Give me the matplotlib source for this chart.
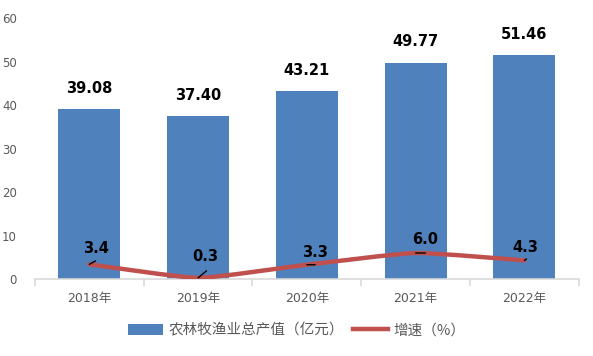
import numpy as np
import matplotlib.pyplot as plt
from matplotlib.path import Path
from matplotlib.patches import PathPatch, Patch
from matplotlib.lines import Line2D

plt.rcParams['font.family'] = ['DejaVu Sans', 'Noto Sans CJK SC']

years = ['2018年', '2019年', '2020年', '2021年', '2022年']
output = [39.08, 37.40, 43.21, 49.77, 51.46]
growth = [3.4, 0.3, 3.3, 6.0, 4.3]
bar_name = '农林牧渔业总产值（亿元）'
line_name = '增速（%）'

bar_color = '#4F81BD'
line_color = '#C0504D'
tick_color = '#595959'

fig = plt.figure(figsize=(5.93, 3.56), dpi=100)
ax = fig.add_axes([0.059, 0.216, 0.917, 0.733])

x = np.arange(len(years))
ax.bar(x, output, width=0.57, color=bar_color, zorder=2)

# bar value labels
for xi, v in zip(x, output):
    ax.annotate(f'{v:.2f}', (xi, v), xytext=(0, 15), textcoords='offset points',
                ha='center', va='center', fontsize=10.5, fontweight='bold',
                color='black')

# smoothed line (light bezier smoothing through the data points)
pts = np.column_stack([x, growth]).astype(float)
verts = [tuple(pts[0])]
codes = [Path.MOVETO]
for i in range(len(pts) - 1):
    p0 = pts[i - 1] if i > 0 else pts[i]
    p1 = pts[i]
    p2 = pts[i + 1]
    p3 = pts[i + 2] if i + 2 < len(pts) else pts[i + 1]
    c1 = p1 + (p2 - p0) / 12
    c2 = p2 - (p3 - p1) / 12
    verts += [tuple(c1), tuple(c2), tuple(p2)]
    codes += [Path.CURVE4] * 3
ax.add_patch(PathPatch(Path(verts, codes), facecolor='none', edgecolor=line_color,
                       lw=3.2, capstyle='round', joinstyle='round', zorder=3))

# line value labels + short leader lines
label_off = [(5, 11.5), (5, 15), (6, 9), (7, 9.5), (1, 9.5)]
leader_off = [(4.5, 2.5), (6, 5), (6, 0), (7, 0), (1.5, 1)]
for xi, v, off, lo in zip(x, growth, label_off, leader_off):
    ax.annotate(f'{v:.1f}', (xi, v), xytext=off, textcoords='offset points',
                ha='center', va='center', fontsize=10.5, fontweight='bold',
                color='black', zorder=4)
    ax.annotate('', (xi, v), xytext=lo, textcoords='offset points', zorder=4,
                arrowprops=dict(arrowstyle='-', color='black', lw=1,
                                shrinkA=0, shrinkB=0))

ax.set_xlim(-0.5, len(years) - 0.5)
ax.set_ylim(0, 60)
ax.set_yticks(range(0, 61, 10))
ax.set_xticks(x)
ax.set_xticklabels(years)
ax.set_xticks(np.arange(-0.5, len(years)), minor=True)

for s in ['top', 'right', 'left']:
    ax.spines[s].set_visible(False)
ax.spines['bottom'].set_color('#D9D9D9')
ax.spines['bottom'].set_linewidth(1.2)

ax.tick_params(axis='y', length=0, pad=13, labelsize=8.5, labelcolor=tick_color)
ax.tick_params(axis='x', which='major', length=0, pad=9, labelsize=9, labelcolor=tick_color)
ax.tick_params(axis='x', which='minor', length=5, color='#D9D9D9', width=1.2)

handles = [Patch(facecolor=bar_color, edgecolor='none'),
           Line2D([0], [0], color=line_color, lw=3.2)]
fig.legend(handles, [bar_name, line_name], loc='center', bbox_to_anchor=(0.5, 0.072),
           ncol=2, frameon=False, handlelength=2.4, handleheight=0.8,
           columnspacing=0.6, handletextpad=0.4, labelcolor='#595959',
           prop={'family': ['Noto Sans CJK SC'], 'size': 10.5})

fig.savefig('out.png', dpi=100)
